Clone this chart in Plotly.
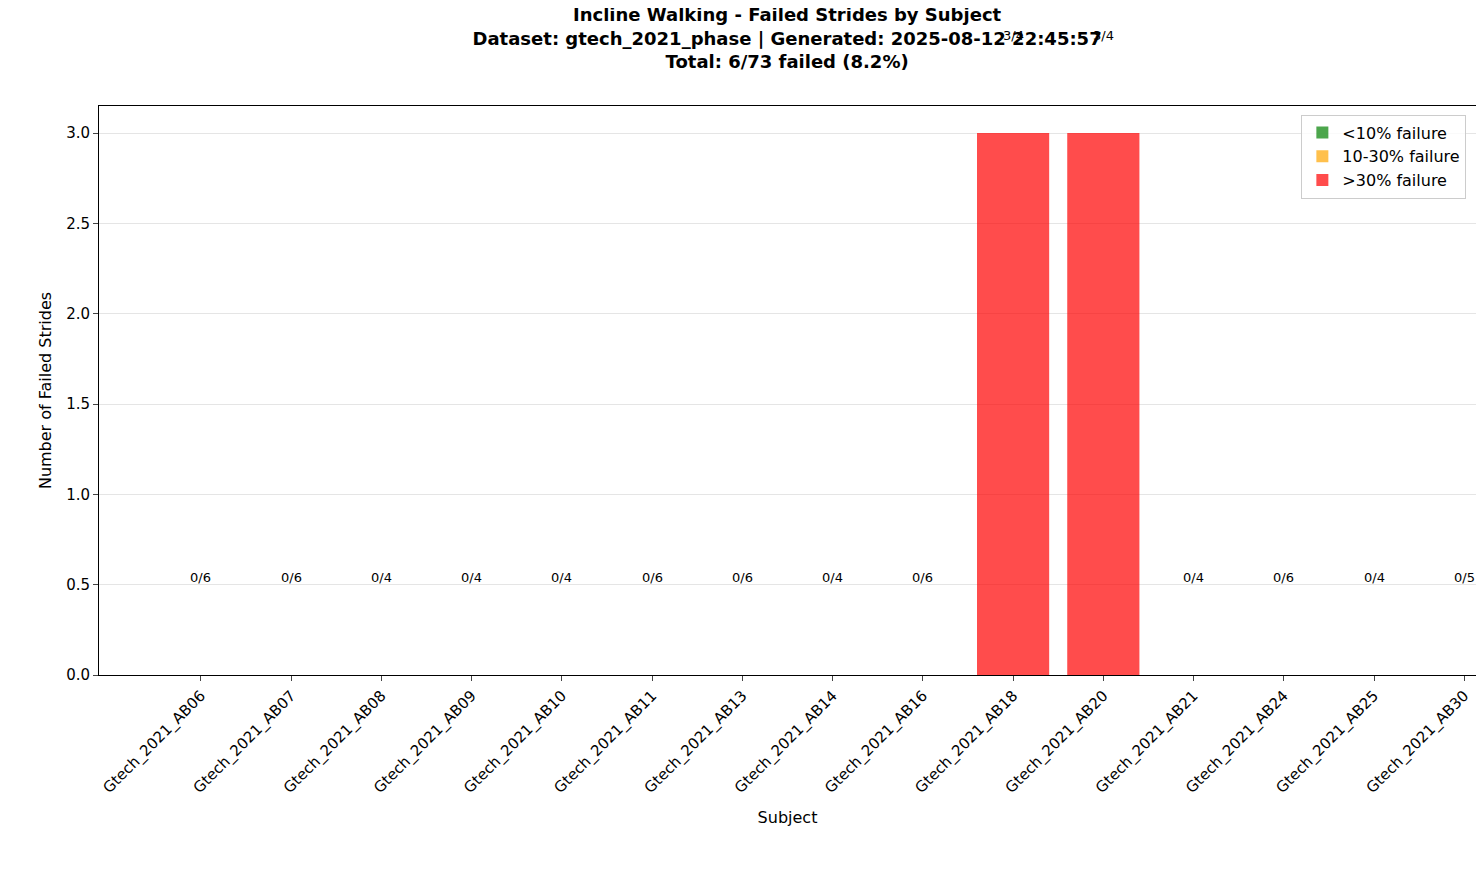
import plotly.graph_objects as go

subjects = ["Gtech_2021_AB06","Gtech_2021_AB07","Gtech_2021_AB08","Gtech_2021_AB09","Gtech_2021_AB10",
            "Gtech_2021_AB11","Gtech_2021_AB13","Gtech_2021_AB14","Gtech_2021_AB16","Gtech_2021_AB18",
            "Gtech_2021_AB20","Gtech_2021_AB21","Gtech_2021_AB24","Gtech_2021_AB25","Gtech_2021_AB30"]
failed = [0,0,0,0,0,0,0,0,0,3,3,0,0,0,0]
total = [6,6,4,4,4,6,6,4,6,4,4,4,6,4,5]

cats = [("<10% failure", "rgba(0,128,0,0.7)", lambda r: r < 0.1),
        ("10-30% failure", "rgba(255,165,0,0.7)", lambda r: 0.1 <= r <= 0.3),
        (">30% failure", "rgba(255,0,0,0.7)", lambda r: r > 0.3)]

YMAX = 3.15
fig = go.Figure()
xs = list(range(len(subjects)))
for name, col, f in cats:
    ys = [v if f(v / t) else None for v, t in zip(failed, total)]
    fig.add_trace(go.Bar(x=xs, y=ys, name=name, marker=dict(color=col, line=dict(width=0)),
                         width=0.8, showlegend=True))

for i, (v, t) in enumerate(zip(failed, total)):
    fig.add_annotation(x=i, xref="x", y=(v + 0.5) / YMAX, yref="paper", text=f"{v}/{t}",
                       showarrow=False, yanchor="bottom", font=dict(size=13, color="black"), yshift=-2)

fig.update_layout(
    width=1484, height=875, autosize=False, barmode="overlay", plot_bgcolor="white", paper_bgcolor="white",
    font=dict(family="DejaVu Sans", size=15, color="black"),
    margin=dict(l=91, r=16, t=98, b=208, autoexpand=False),
    title=dict(text="<b>Incline Walking - Failed Strides by Subject<br>Dataset: gtech_2021_phase | Generated: 2025-08-12 22:45:57<br>Total: 6/73 failed (8.2%)</b>",
               x=0.525, xanchor="center", y=0.985, yanchor="top", font=dict(size=18)),
    legend=dict(x=0.993, y=0.985, xanchor="right", yanchor="top", bordercolor="#cccccc", borderwidth=1,
                bgcolor="rgba(255,255,255,0.8)", font=dict(size=16)),
    xaxis=dict(tickmode="array", tickvals=xs, ticktext=subjects, tickangle=-45, range=[-1.13, 14.13],
               showline=True, mirror=True, linecolor="black", ticks="outside", showgrid=False, automargin=False,
               title=dict(text="Subject", font=dict(size=16)), tickfont=dict(size=15)),
    yaxis=dict(range=[0, YMAX], dtick=0.5, tickformat=".1f", showline=True, mirror=True, linecolor="black",
               ticks="outside", gridcolor="rgba(0,0,0,0.1)", zeroline=False, automargin=False,
               title=dict(text="Number of Failed Strides", font=dict(size=16), standoff=10), tickfont=dict(size=15)),
)
fig.write_html("out.html")
